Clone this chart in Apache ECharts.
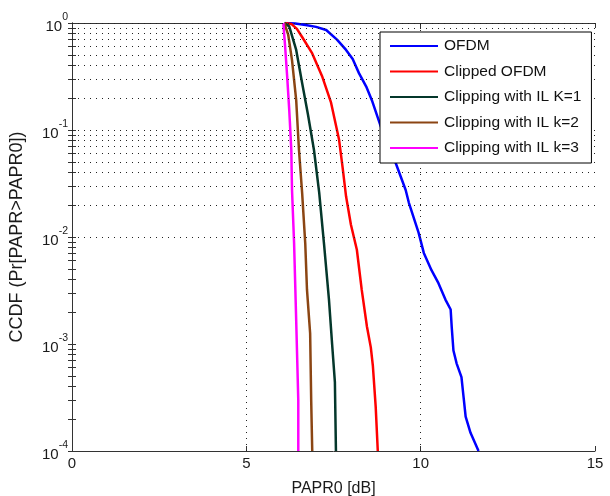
<!DOCTYPE html>
<html>
<head>
<meta charset="utf-8">
<script src="https://cdn.jsdelivr.net/npm/echarts@6/dist/echarts.min.js"></script>
<style>
  html, body { margin: 0; padding: 0; background: #fff; }
  #chart { width: 610px; height: 496px; }
</style>
</head>
<body>
<div id="chart"></div>
<script>
// series names and colours
var seriesNames = ['OFDM', 'Clipped OFDM', 'Clipping with IL K=1', 'Clipping with IL k=2', 'Clipping with IL k=3'];
var seriesColors = ['#0000ff', '#ff0000', '#04372b', '#8b4513', '#ff00ff'];

// curves: PAPR0 [dB] and CCDF
var ofdmX = [6.1, 6.4, 6.7, 7.0, 7.29, 7.6, 7.86, 8.05, 8.23, 8.45, 8.6, 8.86, 9.17, 9.57, 9.66, 9.94, 10.09, 10.31, 10.51, 10.71, 10.86, 10.89, 10.94, 11.03, 11.17, 11.23, 11.29, 11.43, 11.66];
var ofdmY = [1, 0.99, 0.96, 0.92, 0.86, 0.70, 0.56, 0.46, 0.34, 0.25, 0.19, 0.107, 0.062, 0.0275, 0.021, 0.011, 0.0071, 0.0049, 0.0037, 0.0026, 0.0021, 0.00145, 0.00087, 0.00066, 0.00049, 0.00032, 0.00021, 0.000148, 0.0001];

var clipX = [6.1, 6.29, 6.45, 6.6, 6.89, 7.17, 7.43, 7.66, 7.76, 7.86, 8.0, 8.17, 8.31, 8.46, 8.57, 8.63, 8.71, 8.77];
var clipY = [1, 0.98, 0.88, 0.74, 0.52, 0.32, 0.18, 0.081, 0.045, 0.024, 0.013, 0.0076, 0.0032, 0.00145, 0.00093, 0.00062, 0.00026, 0.0001];

var k1X = [6.09, 6.23, 6.43, 6.6, 6.77, 6.94, 7.09, 7.23, 7.37, 7.46, 7.54, 7.57];
var k1Y = [1, 0.93, 0.56, 0.275, 0.138, 0.065, 0.026, 0.0085, 0.0026, 0.001, 0.00044, 0.0001];

var k2X = [6.09, 6.2, 6.31, 6.43, 6.51, 6.6, 6.69, 6.74, 6.83, 6.86, 6.89];
var k2Y = [1, 0.78, 0.45, 0.19, 0.065, 0.026, 0.0087, 0.0032, 0.00126, 0.0003, 0.0001];

var k3X = [6.06, 6.11, 6.17, 6.23, 6.29, 6.31, 6.37, 6.43, 6.49, 6.49];
var k3Y = [1, 0.62, 0.32, 0.155, 0.065, 0.0275, 0.0087, 0.00166, 0.0003, 0.0001];

// axis ticks
var xTicks = [0, 5, 10, 15];
var decades = [0.0001, 0.001, 0.01, 0.1, 1];
var mantissas = [1, 2, 3, 4, 5, 6, 7, 8, 9];

var allX = [ofdmX, clipX, k1X, k2X, k3X];
var allY = [ofdmY, clipY, k1Y, k2Y, k3Y];

// grid values for every 1..9 x decade
var logGrid = [];
decades.slice(0, 4).forEach(function (d) {
  mantissas.forEach(function (m) { logGrid.push(+(m * d).toPrecision(3)); });
});
logGrid.push(1);

var dotted = { color: '#222', width: 1, type: [1, 5] };
var gridLines = [];
logGrid.forEach(function (v) {
  if (v > 0.0001) gridLines.push({ yAxis: v });
});
xTicks.slice(1, 3).forEach(function (v) { gridLines.push({ xAxis: v }); });

var series = [];
// grid behind the curves
series.push({
  type: 'line',
  data: [],
  z: 1,
  silent: true,
  markLine: {
    silent: true,
    symbol: 'none',
    label: { show: false },
    lineStyle: dotted,
    animation: false,
    data: gridLines
  }
});
for (var i = 0; i < seriesNames.length; i++) {
  var d = [];
  for (var j = 0; j < allX[i].length; j++) d.push([allX[i][j], allY[i][j]]);
  series.push({
    name: seriesNames[i],
    type: 'line',
    data: d,
    z: 3,
    showSymbol: false,
    symbol: 'none',
    lineStyle: { width: 2.5, color: seriesColors[i] },
    itemStyle: { color: seriesColors[i] },
    animation: false
  });
}

var txt = { fontFamily: 'Liberation Sans', color: '#1a1a1a' };

var chart = echarts.init(document.getElementById('chart'));
var option = {
  backgroundColor: '#fff',
  animation: false,
  grid: { left: 72, right: 15, top: 23, bottom: 45, outerBoundsMode: 'none', containLabel: false },
  legend: {
    orient: 'vertical',
    left: 380,
    top: 32,
    z: 20,
    data: seriesNames,
    backgroundColor: '#fff',
    borderColor: '#000',
    borderWidth: 1,
    borderRadius: 0,
    padding: [6, 10, 7, 10],
    itemWidth: 48,
    itemHeight: 14,
    itemGap: 9.5,
    icon: 'path://M0,6 L48,6 L48,8 L0,8 Z',
    textStyle: { fontFamily: 'Liberation Sans', fontSize: 15.5, lineHeight: 14, color: '#111', padding: [0, 0, 0, 1] }
  },
  xAxis: [{
    type: 'value',
    min: 0,
    max: 15,
    interval: 5,
    name: 'PAPR0 [dB]',
    nameLocation: 'middle',
    nameGap: 30,
    nameTextStyle: { fontFamily: 'Liberation Sans', fontSize: 16, color: '#1a1a1a' },
    axisLine: { show: true, lineStyle: { color: '#333', width: 1 } },
    axisTick: { inside: true, length: 5, lineStyle: { color: '#333' } },
    axisLabel: Object.assign({ fontSize: 15, margin: 5 }, txt),
    splitLine: { show: false }
  }, {
    type: 'value',
    position: 'top',
    min: 0,
    max: 15,
    interval: 5,
    axisLine: { show: true, lineStyle: { color: '#333', width: 1 } },
    axisTick: { inside: true, length: 5, lineStyle: { color: '#333' } },
    axisLabel: { show: false },
    splitLine: { show: false }
  }],
  yAxis: [{
    type: 'log',
    logBase: 10,
    min: 0.0001,
    max: 1,
    name: 'CCDF (Pr[PAPR>PAPR0])',
    nameLocation: 'middle',
    nameGap: 46,
    nameTextStyle: { fontFamily: 'Liberation Sans', fontSize: 18, color: '#1a1a1a' },
    axisLine: { show: true, lineStyle: { color: '#333', width: 1 } },
    axisTick: { inside: true, length: 4, customValues: logGrid, lineStyle: { color: '#333' } },
    axisLabel: {
      customValues: decades,
      margin: 4,
      formatter: function (v) {
        return '{b|10}{s|' + Math.round(Math.log10(v)) + '}';
      },
      rich: {
        b: { fontFamily: 'Liberation Sans', fontSize: 15, color: '#1a1a1a', verticalAlign: 'bottom', lineHeight: 22 },
        s: { fontFamily: 'Liberation Sans', fontSize: 10.5, color: '#1a1a1a', verticalAlign: 'top', lineHeight: 22 }
      }
    },
    splitLine: { show: false }
  }, {
    type: 'log',
    logBase: 10,
    min: 0.0001,
    max: 1,
    position: 'right',
    axisLine: { show: true, lineStyle: { color: '#333', width: 1 } },
    axisTick: { inside: true, length: 4, customValues: logGrid, lineStyle: { color: '#333' } },
    axisLabel: { show: false },
    splitLine: { show: false }
  }],
  series: series
};
chart.setOption(option);
</script>
</body>
</html>
